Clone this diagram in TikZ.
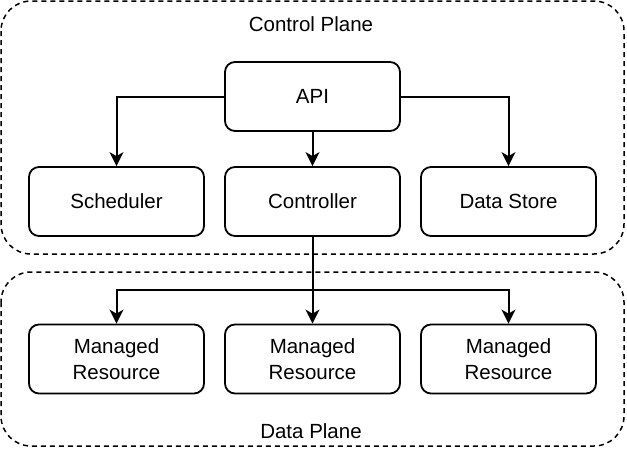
\documentclass[tikz,border=0pt]{standalone}
\usepackage{fontspec}
\setmainfont{Liberation Sans}
\usetikzlibrary{arrows.meta,positioning}
\tikzstyle{box}=[draw,rectangle,rounded corners=10pt,line width=1.8pt,
  minimum width=175pt,minimum height=69pt,align=center,
  font=\fontsize{20.5}{25.5}\selectfont]
\tikzstyle{plane}=[draw,dashed,line width=1.5pt,rounded corners=30pt,
  dash pattern=on 5pt off 4pt]
\tikzstyle{path}=[->,line width=2pt]
\tikzstyle{title}=[font=\fontsize{20.5}{24}\selectfont]

\begin{document}
\begin{tikzpicture}[x=1pt,y=-1pt,>={Stealth[length=14pt,width=14pt,inset=4pt]},
    on grid,node distance=105pt]
  \useasboundingbox (0,0) rectangle (627,448);

  % the two planes
  \draw[plane] (1,1) rectangle (624,254);
  \node[title] (cplabel) at (311,24) {Control Plane};
  \draw[plane] (1,272) rectangle (624,446);
  \node[title] (dplabel) at (311,431) {Data Plane};

  \node[box] (api) at (312.5,96.5) {API};
  \node[box, below=of api]              (ctrl)  {Controller};
  \node[box, left=196pt of ctrl]        (sched) {Scheduler};
  \node[box, right=196pt of ctrl]       (store) {Data Store};
  \node[box, below=157.5pt of ctrl]     (res2)  {Managed\\Resource};
  \node[box, left=196pt of res2]        (res1)  {Managed\\Resource};
  \node[box, right=196pt of res2]       (res3)  {Managed\\Resource};
  \coordinate[below=53pt of ctrl.south] (split);

  \draw[path] (api.west) -| (sched.north);
  \draw[path] (api.east) -| (store.north);
  \draw[path] (api) -- (ctrl);
  \draw[path] (ctrl) -- (res2);
  \draw[path] (split) -| (res1.north);
  \draw[path] (split) -| (res3.north);
\end{tikzpicture}
\end{document}
